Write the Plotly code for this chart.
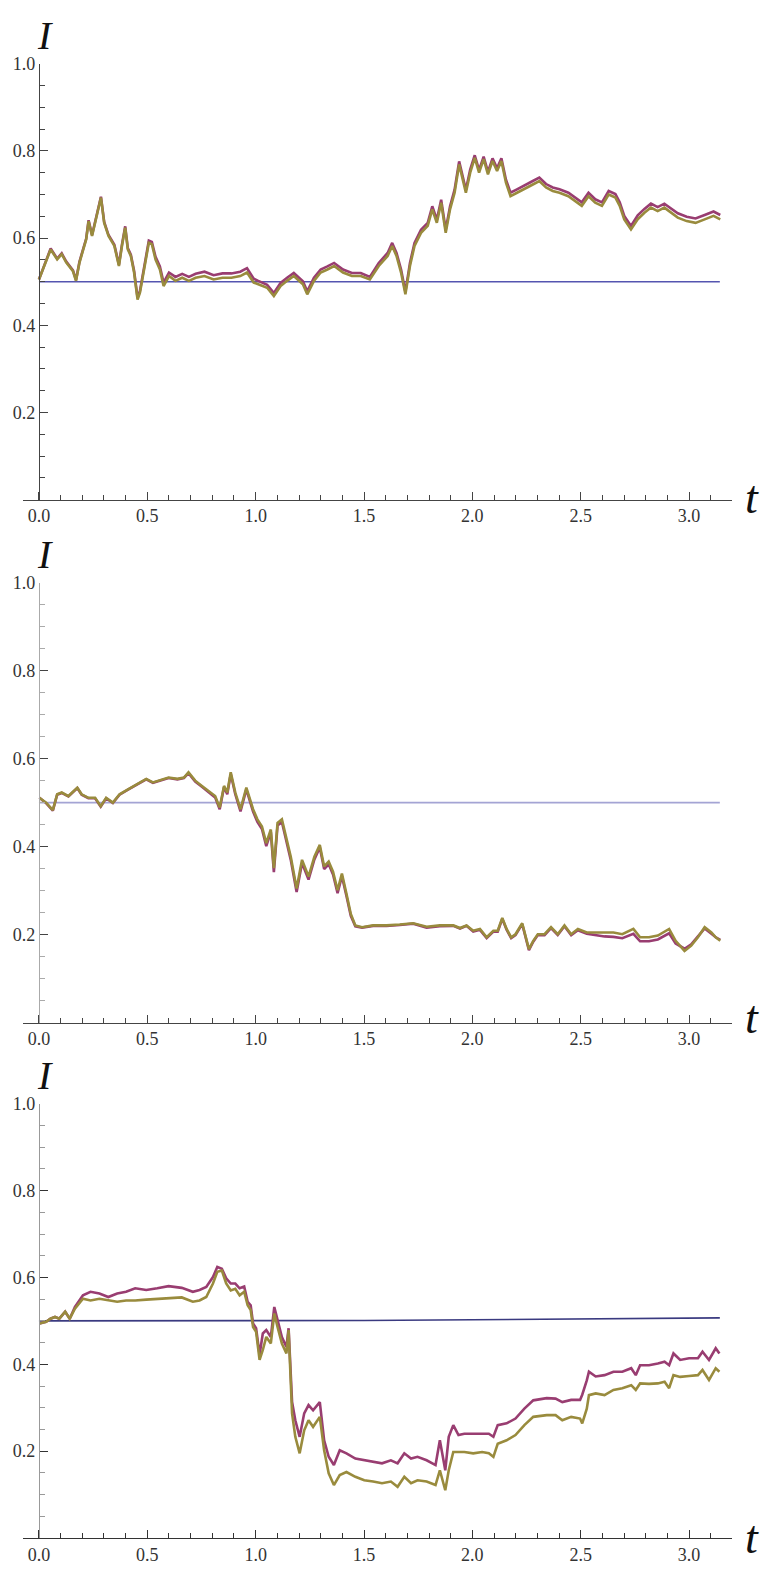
import plotly.graph_objects as go

# panel 1 (top)
t1 = [0.000, 0.054, 0.084, 0.105, 0.126, 0.157, 0.171, 0.187, 0.218, 0.229, 0.245, 0.270, 0.286, 0.301,
      0.321, 0.348, 0.369, 0.383, 0.398, 0.410, 0.424, 0.439, 0.455, 0.466, 0.486, 0.507, 0.521, 0.538,
      0.558, 0.575, 0.600, 0.630, 0.661, 0.692, 0.723, 0.764, 0.806, 0.847, 0.888, 0.929, 0.960, 0.991,
      1.012, 1.053, 1.084, 1.115, 1.145, 1.176, 1.218, 1.238, 1.269, 1.300, 1.331, 1.362, 1.403, 1.444,
      1.485, 1.527, 1.568, 1.609, 1.630, 1.650, 1.671, 1.691, 1.712, 1.733, 1.763, 1.794, 1.815, 1.836,
      1.856, 1.877, 1.897, 1.918, 1.939, 1.955, 1.970, 1.990, 2.011, 2.031, 2.052, 2.072, 2.093, 2.114,
      2.134, 2.155, 2.176, 2.206, 2.248, 2.279, 2.309, 2.340, 2.371, 2.402, 2.443, 2.474, 2.505, 2.536,
      2.567, 2.598, 2.629, 2.660, 2.680, 2.701, 2.732, 2.763, 2.794, 2.824, 2.855, 2.886, 2.917, 2.948,
      2.989, 3.030, 3.072, 3.113, 3.144]
olive1 = [0.505, 0.574, 0.551, 0.563, 0.544, 0.524, 0.502, 0.544, 0.597, 0.639, 0.605, 0.658, 0.693, 0.635,
          0.605, 0.582, 0.536, 0.582, 0.624, 0.574, 0.559, 0.521, 0.459, 0.475, 0.528, 0.589, 0.586, 0.551,
          0.528, 0.490, 0.513, 0.502, 0.509, 0.502, 0.509, 0.513, 0.505, 0.509, 0.509, 0.513, 0.521, 0.498,
          0.494, 0.486, 0.467, 0.490, 0.502, 0.513, 0.494, 0.471, 0.502, 0.521, 0.528, 0.536, 0.521, 0.513,
          0.513, 0.505, 0.536, 0.559, 0.582, 0.559, 0.521, 0.471, 0.536, 0.582, 0.612, 0.628, 0.666, 0.635,
          0.681, 0.612, 0.666, 0.704, 0.769, 0.735, 0.704, 0.750, 0.784, 0.750, 0.781, 0.746, 0.777, 0.754,
          0.777, 0.727, 0.696, 0.704, 0.716, 0.723, 0.731, 0.716, 0.708, 0.704, 0.696, 0.685, 0.674, 0.696,
          0.681, 0.674, 0.700, 0.693, 0.674, 0.643, 0.620, 0.643, 0.658, 0.670, 0.662, 0.670, 0.658, 0.647,
          0.639, 0.635, 0.643, 0.651, 0.643]
magenta1 = [0.505, 0.576, 0.553, 0.565, 0.546, 0.526, 0.504, 0.546, 0.599, 0.641, 0.607, 0.660, 0.695, 0.637,
            0.607, 0.585, 0.539, 0.585, 0.627, 0.577, 0.562, 0.525, 0.463, 0.479, 0.532, 0.594, 0.591, 0.557,
            0.535, 0.498, 0.521, 0.511, 0.518, 0.511, 0.518, 0.523, 0.515, 0.519, 0.519, 0.523, 0.531, 0.507,
            0.502, 0.493, 0.474, 0.497, 0.509, 0.520, 0.501, 0.478, 0.509, 0.528, 0.535, 0.543, 0.528, 0.520,
            0.520, 0.511, 0.543, 0.566, 0.589, 0.566, 0.528, 0.477, 0.543, 0.589, 0.619, 0.635, 0.673, 0.642,
            0.688, 0.619, 0.673, 0.711, 0.776, 0.742, 0.711, 0.757, 0.790, 0.756, 0.787, 0.752, 0.783, 0.760,
            0.783, 0.734, 0.704, 0.712, 0.724, 0.731, 0.739, 0.724, 0.716, 0.712, 0.704, 0.693, 0.682, 0.704,
            0.689, 0.682, 0.708, 0.701, 0.682, 0.651, 0.628, 0.652, 0.667, 0.679, 0.671, 0.679, 0.668, 0.657,
            0.649, 0.645, 0.653, 0.661, 0.653]

# panel 2 (middle)
t2 = [0.002, 0.033, 0.064, 0.084, 0.105, 0.136, 0.177, 0.197, 0.228, 0.259, 0.285, 0.310, 0.341, 0.372,
      0.413, 0.454, 0.495, 0.526, 0.556, 0.598, 0.639, 0.669, 0.690, 0.721, 0.752, 0.782, 0.813, 0.834,
      0.854, 0.869, 0.885, 0.906, 0.930, 0.957, 0.988, 1.008, 1.029, 1.049, 1.070, 1.084, 1.101, 1.121,
      1.142, 1.162, 1.189, 1.214, 1.244, 1.271, 1.296, 1.316, 1.337, 1.357, 1.378, 1.398, 1.419, 1.439,
      1.460, 1.491, 1.542, 1.604, 1.665, 1.727, 1.789, 1.850, 1.912, 1.943, 1.973, 2.004, 2.035, 2.066,
      2.097, 2.117, 2.138, 2.158, 2.179, 2.199, 2.230, 2.240, 2.261, 2.281, 2.302, 2.333, 2.363, 2.394,
      2.425, 2.456, 2.487, 2.528, 2.569, 2.610, 2.651, 2.692, 2.743, 2.774, 2.815, 2.856, 2.908, 2.938,
      2.979, 3.010, 3.041, 3.072, 3.103, 3.123, 3.144]
olive2 = [0.511, 0.500, 0.483, 0.519, 0.523, 0.515, 0.534, 0.519, 0.511, 0.511, 0.492, 0.511, 0.500, 0.519,
          0.531, 0.542, 0.554, 0.546, 0.550, 0.557, 0.554, 0.557, 0.569, 0.550, 0.538, 0.527, 0.515, 0.489,
          0.538, 0.523, 0.569, 0.523, 0.485, 0.534, 0.485, 0.462, 0.446, 0.408, 0.439, 0.351, 0.454, 0.462,
          0.416, 0.377, 0.305, 0.370, 0.332, 0.377, 0.404, 0.355, 0.366, 0.343, 0.301, 0.339, 0.293, 0.247,
          0.221, 0.217, 0.221, 0.221, 0.223, 0.226, 0.218, 0.221, 0.221, 0.215, 0.221, 0.209, 0.213, 0.194,
          0.209, 0.209, 0.238, 0.213, 0.194, 0.201, 0.226, 0.205, 0.167, 0.186, 0.201, 0.201, 0.217, 0.201,
          0.221, 0.201, 0.213, 0.205, 0.205, 0.205, 0.205, 0.201, 0.213, 0.194, 0.194, 0.198, 0.213, 0.186,
          0.163, 0.175, 0.194, 0.217, 0.205, 0.194, 0.186]
magenta2 = [0.511, 0.499, 0.482, 0.518, 0.522, 0.514, 0.533, 0.518, 0.510, 0.510, 0.491, 0.510, 0.499, 0.518,
            0.530, 0.541, 0.553, 0.545, 0.549, 0.556, 0.553, 0.556, 0.567, 0.548, 0.536, 0.525, 0.512, 0.485,
            0.535, 0.519, 0.565, 0.519, 0.480, 0.530, 0.480, 0.456, 0.440, 0.401, 0.433, 0.342, 0.448, 0.456,
            0.409, 0.370, 0.297, 0.363, 0.325, 0.371, 0.398, 0.349, 0.360, 0.337, 0.294, 0.333, 0.288, 0.243,
            0.219, 0.216, 0.220, 0.220, 0.222, 0.225, 0.216, 0.219, 0.220, 0.214, 0.220, 0.207, 0.211, 0.192,
            0.207, 0.207, 0.236, 0.211, 0.192, 0.199, 0.224, 0.203, 0.165, 0.184, 0.199, 0.199, 0.215, 0.199,
            0.219, 0.199, 0.210, 0.202, 0.199, 0.196, 0.195, 0.192, 0.202, 0.185, 0.185, 0.189, 0.203, 0.180,
            0.168, 0.178, 0.196, 0.214, 0.202, 0.194, 0.188]

# panel 3 (bottom)
t3 = [0.002, 0.033, 0.053, 0.074, 0.094, 0.121, 0.142, 0.166, 0.203, 0.238, 0.279, 0.320, 0.361, 0.402,
      0.444, 0.495, 0.546, 0.598, 0.659, 0.710, 0.741, 0.772, 0.803, 0.823, 0.844, 0.864, 0.885, 0.906,
      0.926, 0.947, 0.963, 0.977, 0.988, 1.002, 1.018, 1.033, 1.049, 1.070, 1.086, 1.101, 1.121, 1.142,
      1.152, 1.168, 1.183, 1.203, 1.224, 1.244, 1.265, 1.296, 1.316, 1.337, 1.361, 1.388, 1.419, 1.460,
      1.501, 1.542, 1.583, 1.624, 1.655, 1.686, 1.717, 1.747, 1.789, 1.830, 1.850, 1.875, 1.891, 1.912,
      1.936, 1.963, 2.004, 2.045, 2.076, 2.097, 2.117, 2.158, 2.199, 2.240, 2.281, 2.343, 2.384, 2.415,
      2.456, 2.497, 2.507, 2.528, 2.538, 2.569, 2.610, 2.651, 2.692, 2.733, 2.754, 2.774, 2.815, 2.856,
      2.887, 2.908, 2.928, 2.959, 3.000, 3.041, 3.062, 3.092, 3.123, 3.140]
olive3 = [0.494, 0.498, 0.505, 0.509, 0.505, 0.521, 0.505, 0.528, 0.551, 0.547, 0.551, 0.547, 0.544, 0.547,
          0.547, 0.549, 0.551, 0.553, 0.554, 0.544, 0.547, 0.555, 0.586, 0.613, 0.616, 0.586, 0.570, 0.574,
          0.559, 0.567, 0.536, 0.525, 0.486, 0.475, 0.410, 0.433, 0.463, 0.448, 0.517, 0.486, 0.448, 0.425,
          0.479, 0.287, 0.233, 0.195, 0.248, 0.271, 0.256, 0.279, 0.202, 0.149, 0.122, 0.145, 0.152, 0.141,
          0.133, 0.130, 0.126, 0.130, 0.118, 0.141, 0.126, 0.133, 0.130, 0.122, 0.156, 0.110, 0.156, 0.198,
          0.198, 0.198, 0.195, 0.198, 0.195, 0.187, 0.217, 0.225, 0.237, 0.260, 0.279, 0.283, 0.283, 0.271,
          0.279, 0.275, 0.264, 0.298, 0.329, 0.333, 0.329, 0.341, 0.345, 0.352, 0.341, 0.356, 0.355, 0.356,
          0.360, 0.345, 0.375, 0.371, 0.373, 0.375, 0.387, 0.364, 0.391, 0.383]
magenta3 = [0.494, 0.498, 0.505, 0.509, 0.505, 0.521, 0.505, 0.532, 0.559, 0.567, 0.563, 0.555, 0.563, 0.567,
            0.575, 0.571, 0.575, 0.580, 0.576, 0.567, 0.571, 0.578, 0.601, 0.624, 0.620, 0.598, 0.586, 0.586,
            0.575, 0.579, 0.544, 0.536, 0.494, 0.483, 0.422, 0.471, 0.479, 0.463, 0.532, 0.502, 0.463, 0.440,
            0.483, 0.313, 0.271, 0.233, 0.287, 0.306, 0.294, 0.313, 0.225, 0.187, 0.168, 0.202, 0.195, 0.183,
            0.179, 0.175, 0.172, 0.179, 0.172, 0.195, 0.183, 0.187, 0.179, 0.168, 0.225, 0.156, 0.233, 0.260,
            0.237, 0.240, 0.240, 0.240, 0.240, 0.233, 0.260, 0.264, 0.275, 0.298, 0.317, 0.322, 0.321, 0.313,
            0.318, 0.318, 0.330, 0.363, 0.383, 0.372, 0.375, 0.383, 0.383, 0.391, 0.375, 0.398, 0.398, 0.402,
            0.406, 0.398, 0.425, 0.410, 0.414, 0.414, 0.429, 0.410, 0.437, 0.425]

# the constant / slowly drifting reference lines
tb = [0.0, 3.142]
blue1 = [0.5, 0.5]
blue2 = [0.5, 0.5]
tb3 = [0.0, 0.5, 1.0, 1.5, 2.0, 2.5, 3.0, 3.142]
blue3 = [0.5, 0.5, 0.5005, 0.501, 0.5025, 0.504, 0.5065, 0.507]

MAG = "#993d71"
OLV = "#998b3d"

panels = [
    (t1, magenta1, olive1, tb, blue1, "#5555b0", "#444444", "#444444"),
    (t2, magenta2, olive2, tb, blue2, "#a4a4d4", "#444444", "#aaaaaa"),
    (t3, magenta3, olive3, tb3, blue3, "#3a3a80", "#333333", "#999999"),
]
# figure is 766x1556 so that, with the page's 8px body margin, it fills the window exactly
ydoms = [(0.6840, 0.9642), (0.3479, 0.6307), (0.0167, 0.2958)]
xdom = (0.0192, 0.9457)
yax_pos = 0.0405

fig = go.Figure()
serif = "Liberation Serif, Times New Roman, Times, DejaVu Serif, serif"

for i, (t, mg, ol, tbb, bl, bcol, xcol, ycol) in enumerate(panels):
    n = "" if i == 0 else str(i + 1)
    xa, ya = "x" + n, "y" + n
    fig.add_trace(go.Scatter(x=tbb, y=bl, mode="lines", line=dict(color=bcol, width=1.6),
                             xaxis=xa, yaxis=ya, showlegend=False))
    fig.add_trace(go.Scatter(x=t, y=mg, mode="lines", line=dict(color=MAG, width=2.6),
                             xaxis=xa, yaxis=ya, showlegend=False))
    fig.add_trace(go.Scatter(x=t, y=ol, mode="lines", line=dict(color=OLV, width=2.6),
                             xaxis=xa, yaxis=ya, showlegend=False))

    fig.layout["xaxis" + n] = dict(
        domain=list(xdom), anchor=ya, range=[-0.075, 3.2], automargin=False,
        showline=True, linecolor=xcol, linewidth=1.2, showgrid=False, zeroline=False,
        tickmode="linear", tick0=0, dtick=0.5, tickformat=".1f",
        ticks="inside", ticklen=8, tickcolor=xcol, tickwidth=1,
        minor=dict(tickmode="linear", tick0=0, dtick=0.1, ticks="inside", ticklen=5,
                   tickcolor=xcol, tickwidth=1),
        tickfont=dict(family=serif, size=18, color="#333333"),
    )
    fig.layout["yaxis" + n] = dict(
        domain=list(ydoms[i]), anchor="free", position=yax_pos, range=[0, 1], automargin=False,
        showline=True, linecolor=ycol, linewidth=1.2, showgrid=False, zeroline=False,
        tickmode="array", tickvals=[0.2, 0.4, 0.6, 0.8, 1.0],
        ticktext=["0.2", "0.4", "0.6", "0.8", "1.0"],
        ticks="inside", ticklen=8, tickcolor=xcol, tickwidth=1,
        minor=dict(tickmode="linear", tick0=0, dtick=0.05, ticks="inside", ticklen=5,
                   tickcolor=ycol, tickwidth=1),
        tickfont=dict(family=serif, size=18, color="#333333"),
    )

# axis labels
i_pos = [0.9826, 0.6491, 0.3140]
t_pos = [0.6852, 0.3510, 0.0170]
for yi, yt in zip(i_pos, t_pos):
    fig.add_annotation(text="<i>I</i>", xref="paper", yref="paper", x=0.0483, y=yi,
                       xanchor="center", yanchor="middle", showarrow=False,
                       font=dict(family=serif, size=40, color="#111111"))
    fig.add_annotation(text="<i>t</i>", xref="paper", yref="paper", x=0.9713, y=yt,
                       xanchor="center", yanchor="middle", showarrow=False,
                       font=dict(family=serif, size=46, color="#111111"))

fig.update_layout(width=766, height=1556, margin=dict(l=0, r=0, t=0, b=0),
                  paper_bgcolor="white", plot_bgcolor="white")

fig.write_html("out.html")
